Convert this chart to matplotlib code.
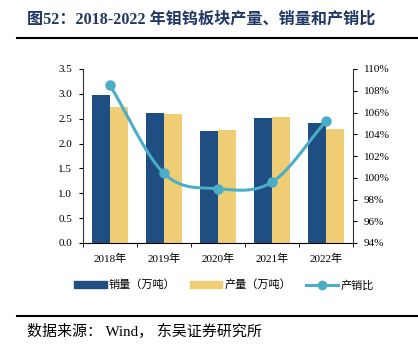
import numpy as np
import matplotlib
matplotlib.use("Agg")
import matplotlib.pyplot as plt
from matplotlib.lines import Line2D
from matplotlib.patches import Patch

years = ["2018年", "2019年", "2020年", "2021年", "2022年"]
sales = [2.98, 2.61, 2.25, 2.52, 2.41]
production = [2.74, 2.60, 2.27, 2.53, 2.29]
ratio = [108.5, 100.4, 99.0, 99.6, 105.2]
left_ticks = [0.0, 0.5, 1.0, 1.5, 2.0, 2.5, 3.0, 3.5]
right_ticks = [94, 96, 98, 100, 102, 104, 106, 108, 110]

FAM = ["Liberation Serif", "Noto Sans CJK SC"]
plt.rcParams["font.family"] = FAM

C_BLUE = "#1F4E82"
C_YEL = "#EFCD74"
C_LINE = "#4BADC8"
C_TITLE = "#1F3864"

fig = plt.figure(figsize=(4.18, 3.54), dpi=100)
W, H = 418, 354
ax = fig.add_axes([83 / W, 1 - 243 / H, (353 - 83) / W, (243 - 69) / H])

x = np.arange(len(years))
bw = 0.33
ax.bar(x - bw / 2, sales, bw, color=C_BLUE, zorder=2)
ax.bar(x + bw / 2, production, bw, color=C_YEL, zorder=2)
ax.set_xlim(-0.5, len(years) - 0.5)
ax.set_ylim(0, 3.5)
ax.set_yticks(left_ticks)
ax.set_yticklabels([f"{v:.1f}" for v in left_ticks], fontsize=8)
ax.set_xticks(x)
ax.set_xticklabels(years, fontsize=8)
ax.set_xticks(np.arange(-0.5, len(years)), minor=True)
ax.tick_params(axis="x", which="major", length=0, pad=8)
ax.tick_params(axis="x", which="minor", length=3, direction="out")
ax.tick_params(axis="y", length=3, direction="out", pad=5)
for s in ["top", "right"]:
    ax.spines[s].set_visible(False)
ax.spines["left"].set_color("#333333")
ax.spines["bottom"].set_color("#000000")

ax2 = ax.twinx()
ax2.set_ylim(94, 110)
ax2.set_yticks(right_ticks)
ax2.set_yticklabels([f"{v}%" for v in right_ticks], fontsize=8)
ax2.tick_params(axis="y", length=3, direction="out", pad=5)
for s in ["top", "left", "bottom"]:
    ax2.spines[s].set_visible(False)
ax2.spines["right"].set_color("#333333")

# smooth curve (Catmull-Rom) through the data points
px = x.astype(float)
py = np.array(ratio, dtype=float)
ext_x = np.concatenate([[2 * px[0] - px[1]], px, [2 * px[-1] - px[-2]]])
ext_y = np.concatenate([[2 * py[0] - py[1]], py, [2 * py[-1] - py[-2]]])
sx, sy = [], []
for i in range(1, len(ext_x) - 2):
    t = np.linspace(0, 1, 30)
    p0, p1, p2, p3 = ext_y[i - 1], ext_y[i], ext_y[i + 1], ext_y[i + 2]
    q0, q1, q2, q3 = ext_x[i - 1], ext_x[i], ext_x[i + 1], ext_x[i + 2]
    f = lambda a, b, c, d: 0.5 * ((2 * b) + (-a + c) * t + (2 * a - 5 * b + 4 * c - d) * t ** 2 + (-a + 3 * b - 3 * c + d) * t ** 3)
    sx.extend(f(q0, q1, q2, q3))
    sy.extend(f(p0, p1, p2, p3))
ax2.plot(sx, sy, color=C_LINE, lw=2.2, zorder=3, solid_capstyle="round")
ax2.plot(px, py, "o", color=C_LINE, ms=6.5, zorder=4)

# title
fig.text(27 / W, 1 - 20 / H, "图52：2018-2022 年钼钨板块产量、销量和产销比",
         fontsize=11.6, fontweight="bold", color=C_TITLE, va="center", ha="left", family=FAM)
fig.add_artist(Line2D([17 / W, 1.0], [1 - 38 / H, 1 - 38 / H], color="black", lw=1.5))
fig.add_artist(Line2D([17 / W, 1.0], [1 - 316 / H, 1 - 316 / H], color="black", lw=1.5))
fig.text(27 / W, 1 - 331 / H, "数据来源： Wind， 东吴证券研究所", fontsize=10.8, color="black",
         va="center", ha="left", family=FAM)

handles = [Patch(color=C_BLUE), Patch(color=C_YEL),
           Line2D([0], [0], color=C_LINE, lw=2.2, marker="o", ms=6)]
labels = ["销量（万吨）", "产量（万吨）", "产销比"]
fig.legend(handles, labels, loc="center", bbox_to_anchor=(224 / W, 1 - 285 / H), ncol=3,
           frameon=False, fontsize=8, handlelength=2.9, handleheight=0.6,
           columnspacing=1.3, handletextpad=0.2)

fig.savefig("out.png", dpi=100)
